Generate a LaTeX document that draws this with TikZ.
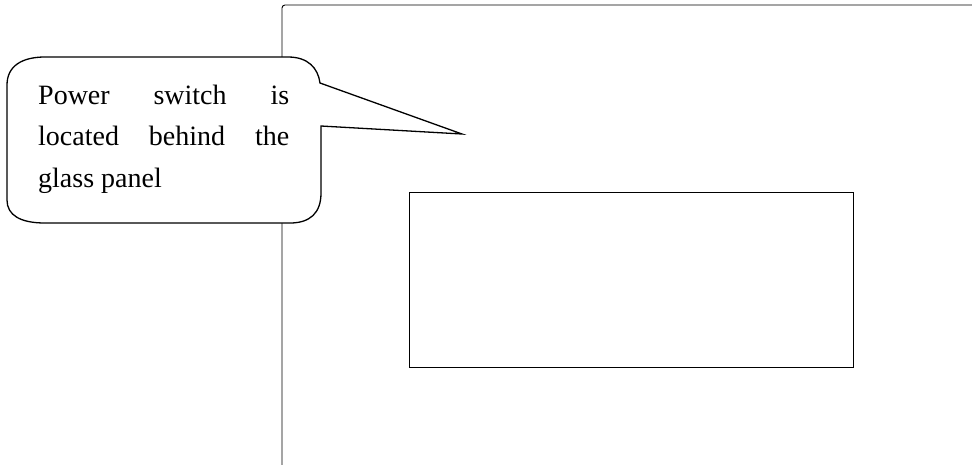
\documentclass[tikz,border=0pt]{standalone}
\usepackage{fontspec}
\setmainfont{Liberation Serif}
\begin{document}
\begin{tikzpicture}[x=1pt,y=-1pt,
  outline/.style={draw=black,line width=0.9pt},
  bubble/.style={draw=black,line width=1.3pt,fill=white,line join=miter},
  bubbletext/.style={anchor=base west,inner sep=0pt,font=\fontsize{28}{41.5}\selectfont}]
\useasboundingbox (0,0) rectangle (972,464);
% outer frame
\draw[outline,rounded corners=3pt] (282,470) -- (282,5) -- (980,5);
% inner rectangle
\draw[outline] (409,192) rectangle (853,367);
% callout
\draw[bubble]
  (320,83) -- (462,134) -- (321,126) -- (321,193)
  .. controls (321,213) and (310,223) .. (290,223) -- (45,223)
  .. controls (20,223) and (7,215) .. (7,200) -- (7,85)
  .. controls (7,66) and (22,57) .. (45,57) -- (288,57)
  .. controls (308,57) and (318,68) .. (320,83) -- cycle;
\node[bubbletext] (l1) at (38,104) {\makebox[251pt][s]{Power switch is}};
\node[bubbletext] (l2) at (38,145.5) {\makebox[251pt][s]{located behind the}};
\node[bubbletext] (l3) at (38,187) {glass panel};
\end{tikzpicture}
\end{document}
